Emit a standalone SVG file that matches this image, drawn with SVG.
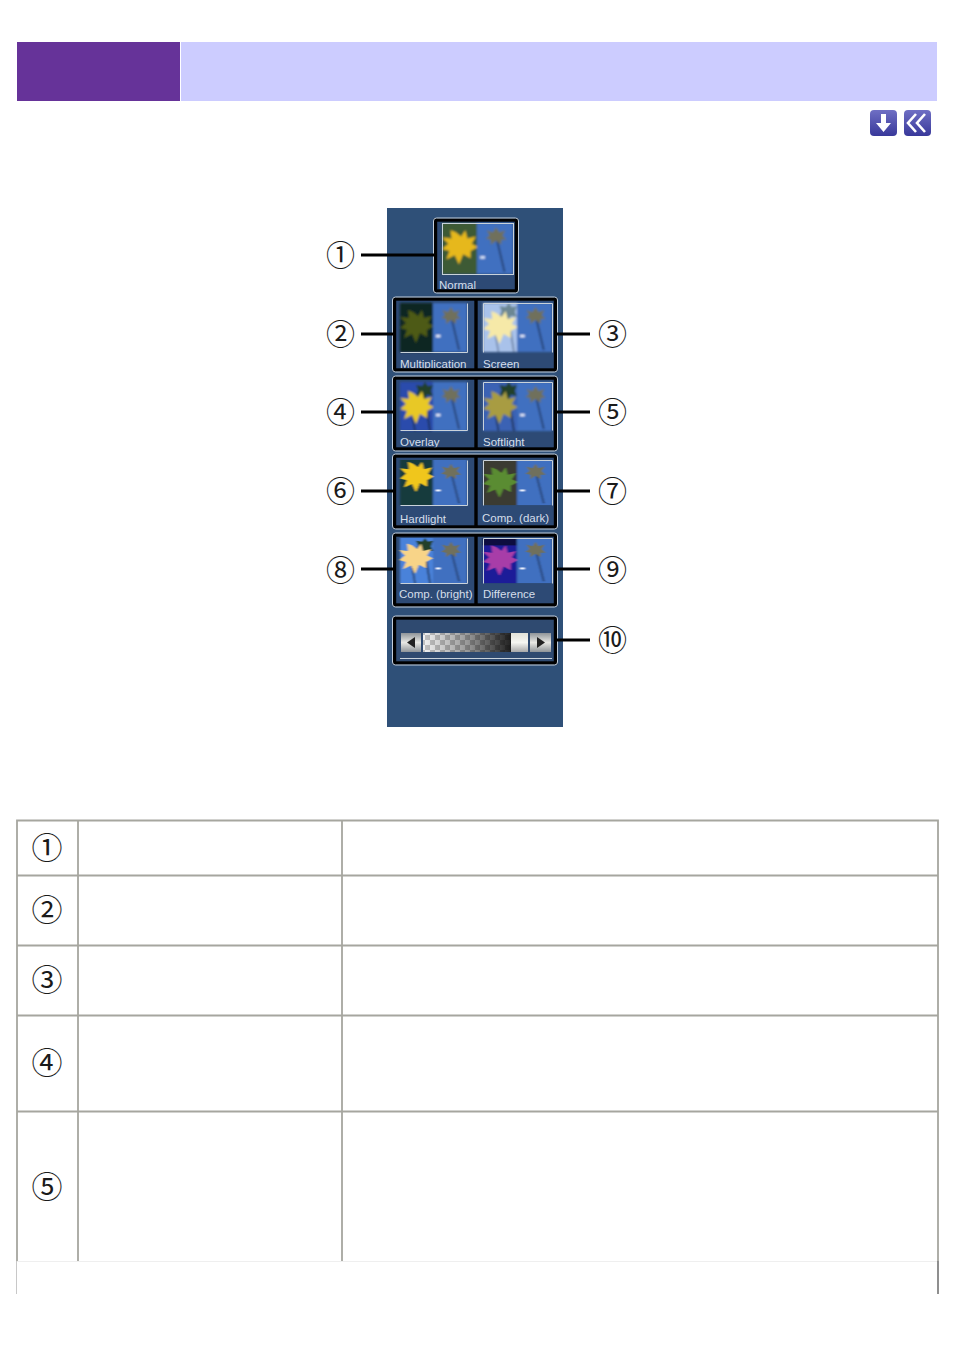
<svg xmlns="http://www.w3.org/2000/svg" xmlns:xlink="http://www.w3.org/1999/xlink" width="954" height="1351" viewBox="0 0 954 1351">
<style>
.num{font-family:"Noto Sans CJK JP","DejaVu Sans",sans-serif;font-size:29px;fill:#1a1a1a;text-anchor:middle}
.tnum{font-family:"Noto Sans CJK JP","DejaVu Sans",sans-serif;font-size:31px;fill:#1a1a1a;text-anchor:middle}
.lab{font-family:"Liberation Sans",Arial,sans-serif;font-size:11.5px;fill:#d5deea}
.frame{fill:none;stroke:#000;stroke-width:3.4}
.halo{fill:none;stroke:#c2cedc;stroke-width:1}
.lead{fill:none;stroke:#000;stroke-width:3.2}
.tl{fill:none;stroke:#a6a69f;stroke-width:1.8}
.edge{fill:none;stroke:#c9d2da;stroke-width:1}
.btn{fill:url(#btn)}
</style>
<defs>
<filter id="soft" x="-10%" y="-10%" width="120%" height="120%"><feGaussianBlur stdDeviation="0.8"/></filter>
<linearGradient id="icon" x1="0" y1="0" x2="0" y2="1"><stop offset="0" stop-color="#6f6fc4"/><stop offset="1" stop-color="#38389a"/></linearGradient>
<linearGradient id="btn" x1="0" y1="0" x2="0" y2="1"><stop offset="0" stop-color="#8f9498"/><stop offset="0.5" stop-color="#e8e8e4"/><stop offset="1" stop-color="#8f9498"/></linearGradient>
<linearGradient id="fade" x1="0" y1="0" x2="1" y2="0"><stop offset="0" stop-color="#f2f2f2"/><stop offset="0.5" stop-color="#9a9a9a"/><stop offset="1" stop-color="#222"/></linearGradient>
<linearGradient id="thumbn" x1="0" y1="0" x2="0" y2="1"><stop offset="0" stop-color="#e2e2d8"/><stop offset="0.5" stop-color="#f6f6f2"/><stop offset="1" stop-color="#a8a8a8"/></linearGradient>
<pattern id="chk" width="10" height="10" patternUnits="userSpaceOnUse"><rect x="0" y="0" width="5" height="5" fill="#000" fill-opacity=".2"/><rect x="5" y="5" width="5" height="5" fill="#000" fill-opacity=".2"/></pattern>
<path id="fl" d="M12 7L17 11L21 5L23 13L31 11L27 18L33 21L26 25L26 32L19 28L15 38L11 29L3 33L6 25L-1 23L5 18L-1 12L8 13L7 5Z"/>
<g id="sky">
<rect x="33" y="0" width="34" height="49" fill="#3f6fc0"/>
<path d="M52 17L59 47" stroke="#20365c" stroke-width="1.4" fill="none"/>
<path d="M51 4L54 9L60 7L57 12L61 16L56 16L56 21L51 17L46 21L46 16L41 15L45 12L42 7L48 9Z" fill="#6f705c"/>
<rect x="36" y="32" width="4.500" height="2.200" fill="#eef4ff"/>
</g>
<g id="palmL">
<path d="M25 16L30 49" stroke="#1c2c48" stroke-width="1.600" fill="none"/>
<path d="M25 0L28 4L33 3L31 9L33 14L27 13L25 18L21 13L16 14L18 8L16 3L22 4Z" fill="#24402c"/>
<path d="M11 25L15 49" stroke="#1c2c48" stroke-width="1.400" fill="none"/>
</g>
</defs>
<rect width="954" height="1351" fill="#fff"/>
<g id="header">
<rect x="17" y="42" width="163" height="59" fill="#663399"/>
<rect x="181" y="42" width="756" height="59" fill="#ccccff"/>
</g>
<g id="nav-down">
<rect x="870" y="110" width="27" height="26" rx="4" fill="url(#icon)"/>
<path d="M881 114H886V123H891L883.500 132L876 123H881Z" fill="#fff"/>
</g>
<g id="nav-back">
<rect x="904" y="110" width="27" height="26" rx="4" fill="url(#icon)"/>
<path d="M916 114L908 123L916 132M925 114L917 123L925 132" fill="none" stroke="#fff" stroke-width="2.600"/>
</g>
<g id="panel">
<rect x="387" y="208" width="176" height="519" fill="#2f5078"/>
<rect x="393" y="299" width="164" height="72" fill="#2d4a75"/>
<rect x="393" y="378" width="164" height="72" fill="#2d4a75"/>
<rect x="393" y="456" width="164" height="72" fill="#2d4a75"/>
<rect x="393" y="535" width="164" height="71" fill="#2d4a75"/>
<rect x="393" y="618" width="164" height="45" fill="#2f4a70"/>
<rect x="435" y="220" width="82" height="72" fill="#2d4a75"/>
</g>
<g id="thumb-normal">
<g transform="translate(442 223) scale(1.06 1.04)" filter="url(#soft)"><rect width="33" height="49" fill="#3c5a34"/><use xlink:href="#fl" fill="#e6b81e" transform="translate(1 2)"/><use xlink:href="#sky"/></g>
<rect x="442.500" y="223.500" width="71" height="51" class="edge"/>
<text class="lab" x="439" y="289">Normal</text>
</g>
<g id="thumb-multiplication">
<g transform="translate(400 303)" filter="url(#soft)"><rect width="33" height="49" fill="#0d2520"/><use xlink:href="#fl" fill="#4d5a18" transform="translate(1 2)"/><use xlink:href="#sky"/></g>
<path d="M400.500 352.500H467.500V303.500" class="edge"/>
<text class="lab" x="400" y="368">Multiplication</text>
</g>
<g id="thumb-screen">
<g transform="translate(483 303) scale(1.03 1)" filter="url(#soft)"><rect width="33" height="49" fill="#a9c2ea"/><use xlink:href="#palmL" opacity=".45"/><use xlink:href="#fl" fill="#f6e9a8" transform="translate(1 3)"/><use xlink:href="#sky"/></g>
<path d="M483.500 352.500V303.500H552.500V352.500" class="edge"/>
<text class="lab" x="483" y="368">Screen</text>
</g>
<g id="thumb-overlay">
<g transform="translate(400 382)" filter="url(#soft)"><rect width="33" height="49" fill="#2a4cac"/><use xlink:href="#palmL"/><use xlink:href="#fl" fill="#e8c828" transform="translate(1 4)"/><use xlink:href="#sky"/></g>
<path d="M400.500 430.500H467.500V382.500" class="edge"/>
<text class="lab" x="400" y="446">Overlay</text>
</g>
<g id="thumb-softlight">
<g transform="translate(483 382) scale(1.03 1)" filter="url(#soft)"><rect width="33" height="49" fill="#3a62b4"/><use xlink:href="#palmL"/><use xlink:href="#fl" fill="#a89c42" transform="translate(1 4)"/><use xlink:href="#sky"/></g>
<path d="M483.500 430.500V382.500H552.500V430.500" class="edge"/>
<text class="lab" x="483" y="446">Softlight</text>
</g>
<g id="thumb-hardlight">
<g transform="translate(400 460) scale(1 .92)" filter="url(#soft)"><rect width="33" height="49" fill="#123a3c"/><use xlink:href="#fl" fill="#f0c61e" transform="translate(1 -3)"/><use xlink:href="#sky"/></g>
<path d="M400.500 505.500H467.500V460.500" class="edge"/>
<text class="lab" x="400" y="523">Hardlight</text>
</g>
<g id="thumb-comp-dark">
<g transform="translate(483 460) scale(1.03 .92)" filter="url(#soft)"><rect width="33" height="49" fill="#3b3a30"/><use xlink:href="#fl" fill="#5a8c30" transform="translate(1 3)"/><use xlink:href="#sky"/></g>
<path d="M483.500 505.500V460.500H552.500V505.500" class="edge"/>
<text class="lab" x="482" y="522">Comp. (dark)</text>
</g>
<g id="thumb-comp-bright">
<g transform="translate(400 538) scale(1 .92)" filter="url(#soft)"><rect width="33" height="49" fill="#4a82da"/><use xlink:href="#palmL"/><use xlink:href="#fl" fill="#f8d488" transform="translate(0 1)"/><use xlink:href="#sky"/></g>
<path d="M400.500 583.500H467.500V538.500" class="edge"/>
<text class="lab" x="399" y="598">Comp. (bright)</text>
</g>
<g id="thumb-difference">
<g transform="translate(483 538) scale(1.03 .92)" filter="url(#soft)"><rect width="33" height="49" fill="#1c1c98"/><rect width="33" height="8" fill="#101040"/><use xlink:href="#fl" fill="#a83ca8" transform="translate(1 3)"/><use xlink:href="#sky"/></g>
<path d="M483.500 583.500V538.500H552.500V583.500" class="edge"/>
<text class="lab" x="483" y="598">Difference</text>
</g>
<g id="slider">
<rect x="401" y="633" width="20" height="19" class="btn"/>
<path d="M415 637V648L407 642.500Z" fill="#222"/>
<rect x="423" y="633" width="88" height="19" fill="url(#fade)"/>
<rect x="423" y="633" width="88" height="19" fill="url(#chk)"/>
<rect x="511" y="633" width="17" height="19" fill="url(#thumbn)"/>
<rect x="530" y="633" width="21" height="19" class="btn"/>
<path d="M537 637V648L545 642.500Z" fill="#222"/>
<path d="M400 658.500H552" stroke="#c9d2da" fill="none"/>
</g>
<g id="frames">
<rect x="435.500" y="220" width="81" height="71" class="frame"/>
<rect x="394.500" y="299" width="161" height="71" class="frame"/><path d="M476 299V370" class="frame"/>
<rect x="394.500" y="378" width="161" height="71" class="frame"/><path d="M476 378V449" class="frame"/>
<rect x="394.500" y="456" width="161" height="71" class="frame"/><path d="M476 456V527" class="frame"/>
<rect x="394.500" y="535" width="161" height="70" class="frame"/><path d="M476 535V605" class="frame"/>
<rect x="394.500" y="618" width="161" height="45" class="frame"/>
<rect x="433.500" y="218" width="85" height="75" rx="3" class="halo"/>
<rect x="392.500" y="297" width="165" height="75" rx="3" class="halo"/>
<rect x="392.500" y="376" width="165" height="75" rx="3" class="halo"/>
<rect x="392.500" y="454" width="165" height="75" rx="3" class="halo"/>
<rect x="392.500" y="533" width="165" height="74" rx="3" class="halo"/>
<rect x="392.500" y="616" width="165" height="49" rx="3" class="halo"/>
</g>
<g id="connectors">
<path class="lead" d="M361 255H435M361 334H395M361 412H395M361 491H395M361 569H395"/>
<path class="lead" d="M556 334H590M556 412H590M556 491H590M556 569H590M556 640H590"/>
</g>
<g id="callout-1"><text class="num" x="340.500" y="266">①</text></g>
<g id="callout-2"><text class="num" x="340.500" y="345">②</text></g>
<g id="callout-3"><text class="num" x="612.500" y="345">③</text></g>
<g id="callout-4"><text class="num" x="340.500" y="423">④</text></g>
<g id="callout-5"><text class="num" x="612.500" y="423">⑤</text></g>
<g id="callout-6"><text class="num" x="340.500" y="502">⑥</text></g>
<g id="callout-7"><text class="num" x="612.500" y="502">⑦</text></g>
<g id="callout-8"><text class="num" x="340.500" y="581">⑧</text></g>
<g id="callout-9"><text class="num" x="612.500" y="581">⑨</text></g>
<g id="callout-10"><text class="num" x="612.500" y="651">⑩</text></g>
<g id="table">
<path class="tl" d="M17 1261V820.500H938V1261M78 821V1261M342 821V1261M17 875.500H938M17 945.500H938M17 1015.500H938M17 1111.500H938"/>
<path d="M17 1261.500H938" stroke="#efefef" fill="none"/>
<path d="M16.500 1261V1294" stroke="#c8c8c8" fill="none"/>
<path d="M938 1261V1294" stroke="#6a6a6a" stroke-width="1.500" fill="none"/>
<text class="tnum" x="47" y="859">①</text>
<text class="tnum" x="47" y="921">②</text>
<text class="tnum" x="47" y="991">③</text>
<text class="tnum" x="47" y="1074">④</text>
<text class="tnum" x="47" y="1198">⑤</text>
</g>
</svg>
